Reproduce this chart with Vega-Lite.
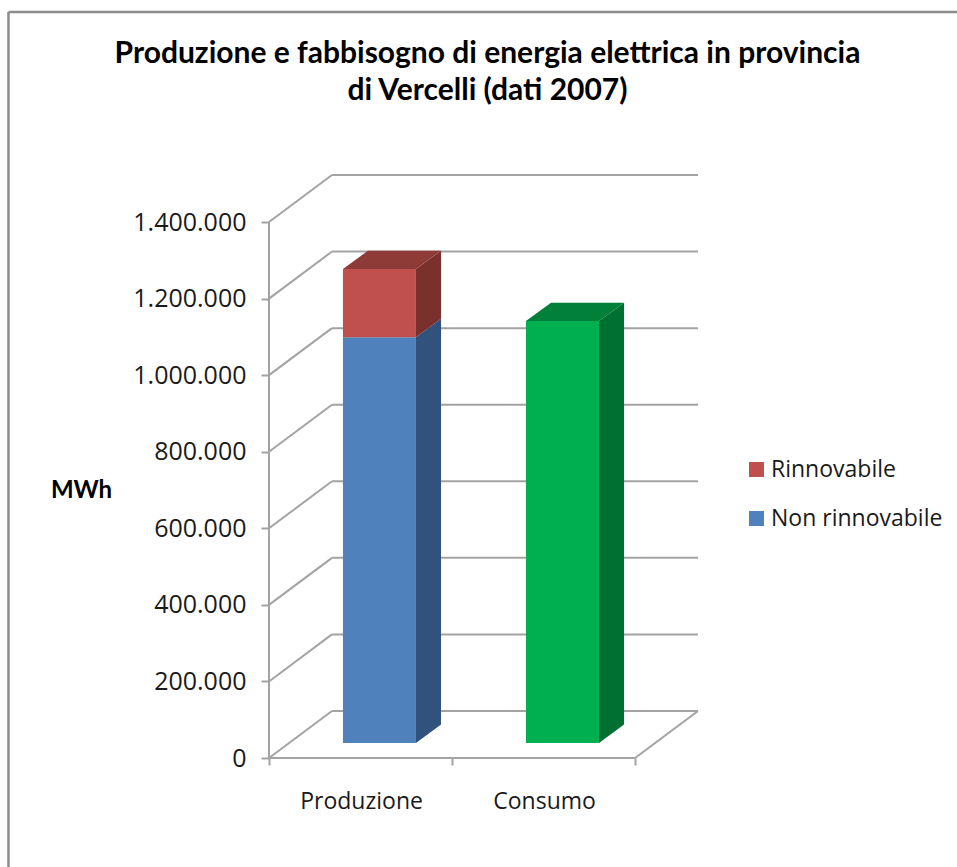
{
  "$schema": "https://vega.github.io/schema/vega-lite/v6.json",
  "width": 429,
  "height": 583,
  "autosize": "none",
  "padding": {"left": 269, "top": 175, "right": 259, "bottom": 109},
  "background": "white",
  "title": {
    "text": ["Produzione e fabbisogno di energia elettrica in provincia", "di Vercelli (dati 2007)"],
    "font": "Lato",
    "fontSize": 30,
    "fontWeight": "bold",
    "color": "#000000",
    "anchor": "middle",
    "frame": "group",
    "dx": 4,
    "offset": -95,
    "lineHeight": 37
  },
  "config": {"view": {"stroke": null}},
  "datasets": {
    "bars": [
      {"categoria": "Produzione", "parte": "Non rinnovabile", "inizio": 0.404, "fine": 0.803, "da": 0, "a": 1060000},
      {"categoria": "Produzione", "parte": "Rinnovabile", "inizio": 0.404, "fine": 0.803, "da": 1060000, "a": 1238000},
      {"categoria": "Consumo", "parte": "Consumo", "inizio": 1.404, "fine": 1.803, "da": 0, "a": 1102000}
    ],
    "faces": [
      {"parte": "Non rinnovabile fianco", "x": 0.803, "alto": 1060000, "basso": 0},
      {"parte": "Non rinnovabile fianco", "x": 0.94, "alto": 1108000, "basso": 48000},
      {"parte": "Rinnovabile fianco", "x": 0.803, "alto": 1238000, "basso": 1060000},
      {"parte": "Rinnovabile fianco", "x": 0.94, "alto": 1286000, "basso": 1108000},
      {"parte": "Rinnovabile cima", "x": 0.404, "alto": 1238000, "basso": 1238000},
      {"parte": "Rinnovabile cima", "x": 0.541, "alto": 1286000, "basso": 1238000},
      {"parte": "Rinnovabile cima", "x": 0.803, "alto": 1286000, "basso": 1238000},
      {"parte": "Rinnovabile cima", "x": 0.94, "alto": 1286000, "basso": 1286000},
      {"parte": "Consumo fianco", "x": 1.803, "alto": 1102000, "basso": 0},
      {"parte": "Consumo fianco", "x": 1.94, "alto": 1150000, "basso": 48000},
      {"parte": "Consumo cima", "x": 1.404, "alto": 1102000, "basso": 1102000},
      {"parte": "Consumo cima", "x": 1.541, "alto": 1150000, "basso": 1102000},
      {"parte": "Consumo cima", "x": 1.803, "alto": 1150000, "basso": 1102000},
      {"parte": "Consumo cima", "x": 1.94, "alto": 1150000, "basso": 1150000}
    ],
    "grid": [
      {"x1": 0, "y1": 0, "x2": 0, "y2": 1400000},
      {"x1": 0, "y1": 0, "x2": 2, "y2": 0},
      {"x1": 0, "y1": 0, "x2": 0.344, "y2": 122800},
      {"x1": 0.344, "y1": 122800, "x2": 2.344, "y2": 122800},
      {"x1": 2.344, "y1": 122800, "x2": 2, "y2": 0},
      {"x1": 0, "y1": 200000, "x2": 0.344, "y2": 322800},
      {"x1": 0.344, "y1": 322800, "x2": 2.344, "y2": 322800},
      {"x1": 0, "y1": 400000, "x2": 0.344, "y2": 522800},
      {"x1": 0.344, "y1": 522800, "x2": 2.344, "y2": 522800},
      {"x1": 0, "y1": 600000, "x2": 0.344, "y2": 722800},
      {"x1": 0.344, "y1": 722800, "x2": 2.344, "y2": 722800},
      {"x1": 0, "y1": 800000, "x2": 0.344, "y2": 922800},
      {"x1": 0.344, "y1": 922800, "x2": 2.344, "y2": 922800},
      {"x1": 0, "y1": 1000000, "x2": 0.344, "y2": 1122800},
      {"x1": 0.344, "y1": 1122800, "x2": 2.344, "y2": 1122800},
      {"x1": 0, "y1": 1200000, "x2": 0.344, "y2": 1322800},
      {"x1": 0.344, "y1": 1322800, "x2": 2.344, "y2": 1322800},
      {"x1": 0, "y1": 1400000, "x2": 0.344, "y2": 1522800},
      {"x1": 0.344, "y1": 1522800, "x2": 2.344, "y2": 1522800}
    ],
    "frame": [
      {"x1": -1.4235, "y1": 1948600, "x2": 3.76, "y2": 1948600},
      {"x1": -1.4235, "y1": 1948600, "x2": -1.4235, "y2": -284700}
    ]
  },
  "layer": [
    {
      "data": {"name": "grid"},
      "mark": {"type": "rule", "color": "#a3a3a3", "strokeWidth": 2},
      "encoding": {
        "x": {
          "field": "x1",
          "type": "quantitative",
          "scale": {"domain": [0, 2.344], "nice": false, "zero": false},
          "axis": {
            "orient": "bottom",
            "values": [0, 1, 2],
            "labels": false,
            "title": null,
            "grid": false,
            "domain": false,
            "tickColor": "#a3a3a3",
            "tickWidth": 2,
            "tickSize": 7
          }
        },
        "y": {
          "field": "y1",
          "type": "quantitative",
          "scale": {"domain": [0, 1522800], "nice": false, "zero": false},
          "axis": {
            "orient": "left",
            "values": [0, 200000, 400000, 600000, 800000, 1000000, 1200000, 1400000],
            "labelExpr": "replace(format(datum.value, ','), /,/g, '.')",
            "labelFont": "Open Sans",
            "labelFontSize": 25,
            "labelColor": "#1a1a1a",
            "labelPadding": 15,
            "grid": false,
            "domain": false,
            "tickColor": "#a3a3a3",
            "tickWidth": 2,
            "tickSize": 8,
            "title": "MWh",
            "titleFont": "Lato",
            "titleFontSize": 24,
            "titleFontWeight": "bold",
            "titleColor": "#000000",
            "titleAngle": 0,
            "titleAlign": "center",
            "titleBaseline": "middle",
            "titleX": -188,
            "titleY": 315
          }
        },
        "x2": {"field": "x2"},
        "y2": {"field": "y2"}
      }
    },
    {
      "data": {"name": "frame"},
      "mark": {"type": "rule", "color": "#8c8c8c", "strokeWidth": 2.5},
      "encoding": {
        "x": {"field": "x1", "type": "quantitative", "axis": null},
        "y": {"field": "y1", "type": "quantitative"},
        "x2": {"field": "x2"},
        "y2": {"field": "y2"}
      }
    },
    {
      "data": {"name": "faces"},
      "mark": {"type": "area", "yOffset": -15, "y2Offset": -15, "interpolate": "linear", "opacity": 1},
      "encoding": {
        "x": {"field": "x", "type": "quantitative", "sort": null, "axis": null},
        "y": {"field": "alto", "type": "quantitative"},
        "y2": {"field": "basso"},
        "color": {"field": "parte", "type": "nominal"}
      }
    },
    {
      "data": {"name": "bars"},
      "mark": {"type": "rect", "yOffset": -15, "y2Offset": -15},
      "encoding": {
        "x": {
          "field": "inizio",
          "type": "quantitative",
          "axis": {
            "orient": "bottom",
            "values": [0.503, 1.503],
            "labelExpr": "datum.value < 1 ? 'Produzione' : 'Consumo'",
            "labelFont": "Open Sans",
            "labelFontSize": 23,
            "labelColor": "#1a1a1a",
            "labelPadding": 32,
            "ticks": false,
            "domain": false,
            "grid": false,
            "title": null
          }
        },
        "x2": {"field": "fine"},
        "y": {"field": "da", "type": "quantitative"},
        "y2": {"field": "a"},
        "color": {
          "field": "parte",
          "type": "nominal",
          "scale": {
            "domain": ["Rinnovabile", "Non rinnovabile", "Consumo", "Non rinnovabile fianco", "Rinnovabile fianco", "Rinnovabile cima", "Consumo fianco", "Consumo cima"],
            "range": ["#c0504d", "#4f81bd", "#00b050", "#30527c", "#7a302d", "#8e3a37", "#006f32", "#008038"]
          },
          "legend": {
            "values": ["Rinnovabile", "Non rinnovabile"],
            "title": null,
            "orient": "none",
            "legendX": 476,
            "legendY": 283,
            "symbolType": "square",
            "symbolSize": 225,
            "symbolStrokeWidth": 0,
            "labelFont": "Open Sans",
            "labelFontSize": 23,
            "labelColor": "#1a1a1a",
            "labelLimit": 260,
            "labelOffset": 3,
            "rowPadding": 25
          }
        }
      }
    }
  ],
  "resolve": {"axis": {"x": "independent"}}
}
